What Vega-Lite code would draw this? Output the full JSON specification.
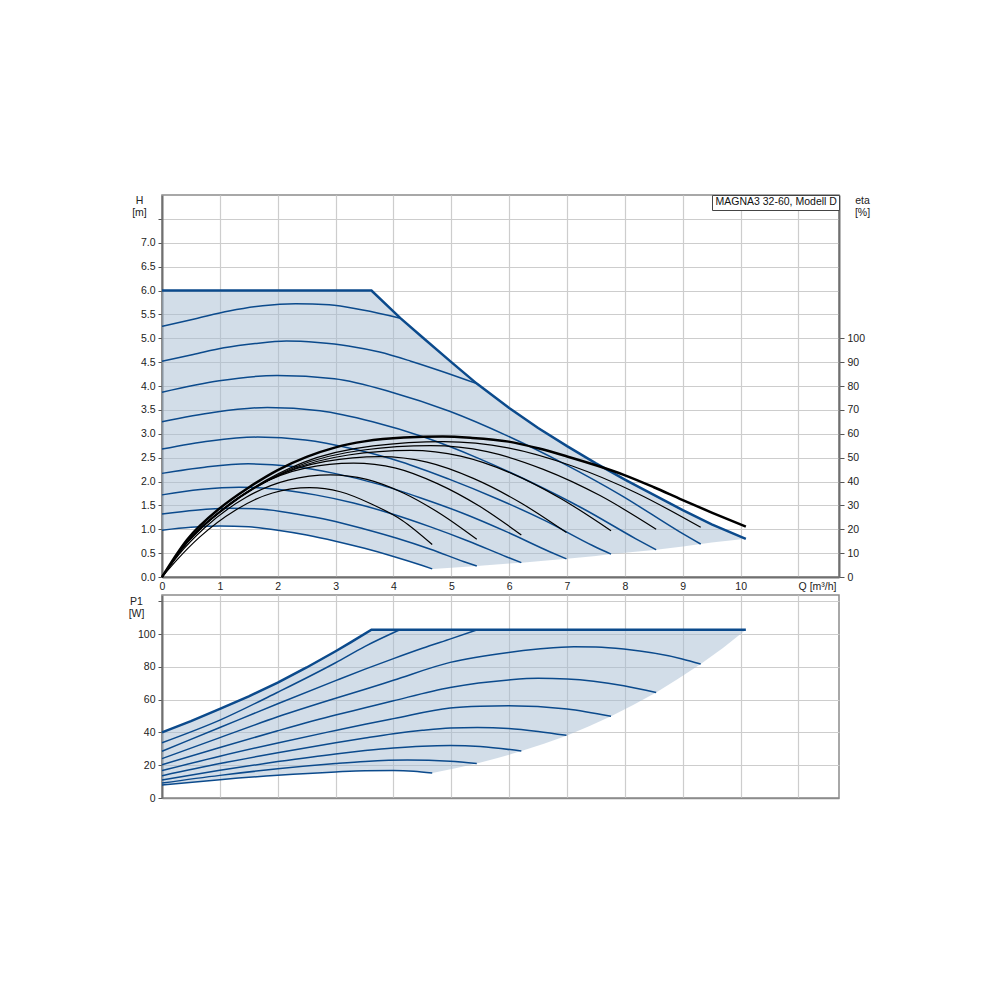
{
  "$schema": "https://vega.github.io/schema/vega-lite/v6.json",
  "autosize": {"type": "none"},
  "padding": {"left": 162, "top": 195, "right": 838, "bottom": 805},
  "background": "white",
  "bounds": "flush",
  "spacing": 18,
  "config": {
    "font": "Liberation Sans",
    "view": {"stroke": "#8c8c8c", "strokeWidth": 1.5},
    "axis": {"labelFont": "Liberation Sans", "labelFontSize": 10.5, "labelColor": "#222", "labelOverlap": false, "titleFont": "Liberation Sans", "titleFontSize": 10.5, "titleFontWeight": "normal", "titleColor": "#222", "gridColor": "#cdcdcd", "gridWidth": 1.2, "domainColor": "#707070", "domainWidth": 2, "tickColor": "#555"},
    "line": {"strokeCap": "butt"}
  },
  "datasets": {
    "harea": [
      {"Q": 0, "hi": 6.0, "lo": 0.98}, {"Q": 0.5, "hi": 6.0, "lo": 1.04}, {"Q": 1, "hi": 6.0, "lo": 1.07}, {"Q": 1.5, "hi": 6.0, "lo": 1.05},
      {"Q": 2, "hi": 6.0, "lo": 0.98}, {"Q": 2.5, "hi": 6.0, "lo": 0.88}, {"Q": 3, "hi": 6.0, "lo": 0.75}, {"Q": 3.5, "hi": 6.0, "lo": 0.60},
      {"Q": 3.62, "hi": 6.0, "lo": 0.56}, {"Q": 4.0, "hi": 5.56, "lo": 0.43}, {"Q": 4.12, "hi": 5.42, "lo": 0.39}, {"Q": 4.5, "hi": 5.02, "lo": 0.24},
      {"Q": 4.67, "hi": 4.85, "lo": 0.17}, {"Q": 5.0, "hi": 4.5, "lo": 0.195}, {"Q": 5.44, "hi": 4.05, "lo": 0.23}, {"Q": 6.0, "hi": 3.54, "lo": 0.285},
      {"Q": 6.21, "hi": 3.37, "lo": 0.30}, {"Q": 6.5, "hi": 3.12, "lo": 0.33}, {"Q": 6.99, "hi": 2.74, "lo": 0.38}, {"Q": 7.5, "hi": 2.38, "lo": 0.44},
      {"Q": 7.76, "hi": 2.21, "lo": 0.48}, {"Q": 8.0, "hi": 2.04, "lo": 0.51}, {"Q": 8.54, "hi": 1.70, "lo": 0.57}, {"Q": 9.0, "hi": 1.40, "lo": 0.64},
      {"Q": 9.31, "hi": 1.22, "lo": 0.69}, {"Q": 9.5, "hi": 1.10, "lo": 0.72}, {"Q": 10.09, "hi": 0.80, "lo": 0.80}
    ],
    "hmax": [
      {"Q": 0, "H": 6.0}, {"Q": 3.62, "H": 6.0}, {"Q": 4.12, "H": 5.42}, {"Q": 4.5, "H": 5.02}, {"Q": 5.0, "H": 4.5}, {"Q": 5.44, "H": 4.05},
      {"Q": 6.0, "H": 3.54}, {"Q": 6.5, "H": 3.12}, {"Q": 7.0, "H": 2.74}, {"Q": 7.5, "H": 2.38}, {"Q": 8.0, "H": 2.04}, {"Q": 8.5, "H": 1.72},
      {"Q": 9.0, "H": 1.40}, {"Q": 9.5, "H": 1.10}, {"Q": 10.09, "H": 0.80}
    ],
    "hspeed": [
      {"s": "k1", "Q": 0, "H": 5.25}, {"s": "k1", "Q": 0.58, "H": 5.41}, {"s": "k1", "Q": 1.16, "H": 5.57}, {"s": "k1", "Q": 1.74, "H": 5.68}, {"s": "k1", "Q": 2.31, "H": 5.72}, {"s": "k1", "Q": 2.89, "H": 5.70}, {"s": "k1", "Q": 3.47, "H": 5.59}, {"s": "k1", "Q": 4.12, "H": 5.42},
      {"s": "k2", "Q": 0, "H": 4.52}, {"s": "k2", "Q": 0.54, "H": 4.66}, {"s": "k2", "Q": 1.07, "H": 4.80}, {"s": "k2", "Q": 1.61, "H": 4.89}, {"s": "k2", "Q": 2.15, "H": 4.94}, {"s": "k2", "Q": 2.69, "H": 4.91}, {"s": "k2", "Q": 3.22, "H": 4.84}, {"s": "k2", "Q": 3.76, "H": 4.71}, {"s": "k2", "Q": 4.30, "H": 4.52}, {"s": "k2", "Q": 4.83, "H": 4.31}, {"s": "k2", "Q": 5.44, "H": 4.05},
      {"s": "k3", "Q": 0, "H": 3.87}, {"s": "k3", "Q": 0.99, "H": 4.11}, {"s": "k3", "Q": 1.99, "H": 4.22}, {"s": "k3", "Q": 2.98, "H": 4.15}, {"s": "k3", "Q": 3.97, "H": 3.87}, {"s": "k3", "Q": 4.97, "H": 3.47}, {"s": "k3", "Q": 5.96, "H": 2.96}, {"s": "k3", "Q": 6.95, "H": 2.37}, {"s": "k3", "Q": 7.95, "H": 1.70}, {"s": "k3", "Q": 8.94, "H": 0.95}, {"s": "k3", "Q": 9.31, "H": 0.69},
      {"s": "k4", "Q": 0, "H": 3.25}, {"s": "k4", "Q": 0.91, "H": 3.45}, {"s": "k4", "Q": 1.82, "H": 3.55}, {"s": "k4", "Q": 2.73, "H": 3.48}, {"s": "k4", "Q": 3.64, "H": 3.25}, {"s": "k4", "Q": 4.55, "H": 2.92}, {"s": "k4", "Q": 5.46, "H": 2.49}, {"s": "k4", "Q": 6.37, "H": 1.99}, {"s": "k4", "Q": 7.28, "H": 1.43}, {"s": "k4", "Q": 8.19, "H": 0.80}, {"s": "k4", "Q": 8.54, "H": 0.57},
      {"s": "k5", "Q": 0, "H": 2.68}, {"s": "k5", "Q": 0.83, "H": 2.85}, {"s": "k5", "Q": 1.65, "H": 2.93}, {"s": "k5", "Q": 2.48, "H": 2.87}, {"s": "k5", "Q": 3.31, "H": 2.68}, {"s": "k5", "Q": 4.14, "H": 2.41}, {"s": "k5", "Q": 4.96, "H": 2.05}, {"s": "k5", "Q": 5.79, "H": 1.64}, {"s": "k5", "Q": 6.62, "H": 1.18}, {"s": "k5", "Q": 7.44, "H": 0.66}, {"s": "k5", "Q": 7.76, "H": 0.48},
      {"s": "k6", "Q": 0, "H": 2.17}, {"s": "k6", "Q": 0.74, "H": 2.30}, {"s": "k6", "Q": 1.49, "H": 2.37}, {"s": "k6", "Q": 2.23, "H": 2.32}, {"s": "k6", "Q": 2.98, "H": 2.17}, {"s": "k6", "Q": 3.72, "H": 1.95}, {"s": "k6", "Q": 4.46, "H": 1.66}, {"s": "k6", "Q": 5.21, "H": 1.33}, {"s": "k6", "Q": 5.95, "H": 0.95}, {"s": "k6", "Q": 6.70, "H": 0.53}, {"s": "k6", "Q": 6.99, "H": 0.38},
      {"s": "k7", "Q": 0, "H": 1.72}, {"s": "k7", "Q": 0.66, "H": 1.83}, {"s": "k7", "Q": 1.33, "H": 1.88}, {"s": "k7", "Q": 1.99, "H": 1.84}, {"s": "k7", "Q": 2.65, "H": 1.72}, {"s": "k7", "Q": 3.31, "H": 1.55}, {"s": "k7", "Q": 3.98, "H": 1.32}, {"s": "k7", "Q": 4.64, "H": 1.05}, {"s": "k7", "Q": 5.30, "H": 0.75}, {"s": "k7", "Q": 5.96, "H": 0.42}, {"s": "k7", "Q": 6.21, "H": 0.30},
      {"s": "k8", "Q": 0, "H": 1.32}, {"s": "k8", "Q": 0.58, "H": 1.40}, {"s": "k8", "Q": 1.16, "H": 1.44}, {"s": "k8", "Q": 1.74, "H": 1.42}, {"s": "k8", "Q": 2.32, "H": 1.32}, {"s": "k8", "Q": 2.90, "H": 1.19}, {"s": "k8", "Q": 3.48, "H": 1.01}, {"s": "k8", "Q": 4.06, "H": 0.81}, {"s": "k8", "Q": 4.64, "H": 0.58}, {"s": "k8", "Q": 5.22, "H": 0.32}, {"s": "k8", "Q": 5.44, "H": 0.23},
      {"s": "k9", "Q": 0, "H": 0.98}, {"s": "k9", "Q": 0.5, "H": 1.04}, {"s": "k9", "Q": 1, "H": 1.07}, {"s": "k9", "Q": 1.5, "H": 1.05}, {"s": "k9", "Q": 2, "H": 0.98}, {"s": "k9", "Q": 2.5, "H": 0.88}, {"s": "k9", "Q": 3, "H": 0.75}, {"s": "k9", "Q": 3.5, "H": 0.60}, {"s": "k9", "Q": 4, "H": 0.43}, {"s": "k9", "Q": 4.5, "H": 0.24}, {"s": "k9", "Q": 4.67, "H": 0.17}
    ],
    "eta": [
      {"s": "e9", "Q": 0, "eta": 0}, {"s": "e9", "Q": 0.255, "eta": 7.1}, {"s": "e9", "Q": 0.64, "eta": 16.5}, {"s": "e9", "Q": 1.275, "eta": 28.1}, {"s": "e9", "Q": 1.91, "eta": 35.2}, {"s": "e9", "Q": 2.55, "eta": 37.4}, {"s": "e9", "Q": 3.08, "eta": 35.7}, {"s": "e9", "Q": 3.61, "eta": 30.7}, {"s": "e9", "Q": 4.14, "eta": 23.9}, {"s": "e9", "Q": 4.67, "eta": 13.6},
      {"s": "e8", "Q": 0, "eta": 0}, {"s": "e8", "Q": 0.291, "eta": 9.4}, {"s": "e8", "Q": 0.728, "eta": 20.4}, {"s": "e8", "Q": 1.455, "eta": 33.4}, {"s": "e8", "Q": 2.18, "eta": 40.6}, {"s": "e8", "Q": 2.91, "eta": 42.8}, {"s": "e8", "Q": 3.54, "eta": 40.9}, {"s": "e8", "Q": 4.18, "eta": 35.1}, {"s": "e8", "Q": 4.81, "eta": 26.5}, {"s": "e8", "Q": 5.44, "eta": 15.8},
      {"s": "e7", "Q": 0, "eta": 0}, {"s": "e7", "Q": 0.331, "eta": 11.4}, {"s": "e7", "Q": 0.83, "eta": 23.9}, {"s": "e7", "Q": 1.655, "eta": 38.2}, {"s": "e7", "Q": 2.48, "eta": 45.6}, {"s": "e7", "Q": 3.31, "eta": 47.7}, {"s": "e7", "Q": 4.04, "eta": 45.6}, {"s": "e7", "Q": 4.76, "eta": 39.1}, {"s": "e7", "Q": 5.49, "eta": 29.6}, {"s": "e7", "Q": 6.21, "eta": 17.6},
      {"s": "e6", "Q": 0, "eta": 0}, {"s": "e6", "Q": 0.377, "eta": 12.9}, {"s": "e6", "Q": 0.94, "eta": 26.1}, {"s": "e6", "Q": 1.885, "eta": 41.1}, {"s": "e6", "Q": 2.83, "eta": 48.4}, {"s": "e6", "Q": 3.77, "eta": 50.4}, {"s": "e6", "Q": 4.58, "eta": 48.1}, {"s": "e6", "Q": 5.38, "eta": 41.3}, {"s": "e6", "Q": 6.19, "eta": 31.2}, {"s": "e6", "Q": 6.99, "eta": 18.6},
      {"s": "e5", "Q": 0, "eta": 0}, {"s": "e5", "Q": 0.429, "eta": 14.3}, {"s": "e5", "Q": 1.07, "eta": 28.4}, {"s": "e5", "Q": 2.145, "eta": 44.0}, {"s": "e5", "Q": 3.22, "eta": 51.1}, {"s": "e5", "Q": 4.29, "eta": 53.0}, {"s": "e5", "Q": 5.16, "eta": 50.6}, {"s": "e5", "Q": 6.03, "eta": 43.5}, {"s": "e5", "Q": 6.89, "eta": 32.9}, {"s": "e5", "Q": 7.76, "eta": 19.4},
      {"s": "e4", "Q": 0, "eta": 0}, {"s": "e4", "Q": 0.464, "eta": 15.4}, {"s": "e4", "Q": 1.16, "eta": 30.1}, {"s": "e4", "Q": 2.32, "eta": 46.2}, {"s": "e4", "Q": 3.48, "eta": 53.2}, {"s": "e4", "Q": 4.64, "eta": 55.0}, {"s": "e4", "Q": 5.62, "eta": 52.5}, {"s": "e4", "Q": 6.59, "eta": 45.1}, {"s": "e4", "Q": 7.57, "eta": 34.1}, {"s": "e4", "Q": 8.54, "eta": 20.0},
      {"s": "e3", "Q": 0, "eta": 0}, {"s": "e3", "Q": 0.487, "eta": 16.2}, {"s": "e3", "Q": 1.22, "eta": 31.4}, {"s": "e3", "Q": 2.435, "eta": 47.9}, {"s": "e3", "Q": 3.65, "eta": 54.9}, {"s": "e3", "Q": 4.87, "eta": 56.7}, {"s": "e3", "Q": 5.98, "eta": 54.1}, {"s": "e3", "Q": 7.09, "eta": 46.5}, {"s": "e3", "Q": 8.20, "eta": 35.2}, {"s": "e3", "Q": 9.31, "eta": 20.8}
    ],
    "etamax": [
      {"Q": 0, "eta": 0}, {"Q": 0.43, "eta": 15.5}, {"Q": 1.0, "eta": 28.8}, {"Q": 1.5, "eta": 37.5}, {"Q": 2.0, "eta": 44.8}, {"Q": 2.5, "eta": 50.3}, {"Q": 3.0, "eta": 54.3}, {"Q": 3.5, "eta": 56.8}, {"Q": 4.18, "eta": 58.4}, {"Q": 4.85, "eta": 58.8},
      {"Q": 5.33, "eta": 58.3}, {"Q": 5.99, "eta": 56.7}, {"Q": 6.5, "eta": 53.9}, {"Q": 7.0, "eta": 50.5}, {"Q": 7.5, "eta": 46.8}, {"Q": 7.98, "eta": 42.8}, {"Q": 8.5, "eta": 37.6}, {"Q": 8.99, "eta": 32.3}, {"Q": 9.5, "eta": 27.0}, {"Q": 10.09, "eta": 21.1}
    ],
    "parea": [
      {"Q": 0, "hi": 40.0, "lo": 7.9}, {"Q": 0.5, "hi": 46.9, "lo": 9.6}, {"Q": 1, "hi": 54.3, "lo": 11.2}, {"Q": 1.5, "hi": 62.0, "lo": 12.6}, {"Q": 2, "hi": 70.3, "lo": 13.9},
      {"Q": 2.5, "hi": 79.6, "lo": 15.0}, {"Q": 3, "hi": 89.5, "lo": 15.9}, {"Q": 3.26, "hi": 94.9, "lo": 16.3}, {"Q": 3.62, "hi": 102.6, "lo": 16.65}, {"Q": 4, "hi": 102.6, "lo": 16.7},
      {"Q": 4.35, "hi": 102.6, "lo": 16.3}, {"Q": 4.67, "hi": 102.6, "lo": 15.2}, {"Q": 5.05, "hi": 102.6, "lo": 18.0}, {"Q": 5.44, "hi": 102.6, "lo": 21.1}, {"Q": 5.8, "hi": 102.6, "lo": 24.4},
      {"Q": 6.21, "hi": 102.6, "lo": 28.6}, {"Q": 6.6, "hi": 102.6, "lo": 33.1}, {"Q": 6.99, "hi": 102.6, "lo": 38.0}, {"Q": 7.38, "hi": 102.6, "lo": 43.7}, {"Q": 7.76, "hi": 102.6, "lo": 49.8},
      {"Q": 8.15, "hi": 102.6, "lo": 56.8}, {"Q": 8.54, "hi": 102.6, "lo": 64.4}, {"Q": 8.92, "hi": 102.6, "lo": 72.7}, {"Q": 9.31, "hi": 102.6, "lo": 81.7}, {"Q": 9.7, "hi": 102.6, "lo": 91.7}, {"Q": 10.09, "hi": 102.6, "lo": 102.6}
    ],
    "pmax": [
      {"Q": 0, "P": 40.0}, {"Q": 0.5, "P": 46.9}, {"Q": 1, "P": 54.3}, {"Q": 1.5, "P": 62.0}, {"Q": 2, "P": 70.3}, {"Q": 2.5, "P": 79.6}, {"Q": 3, "P": 89.5}, {"Q": 3.26, "P": 94.9}, {"Q": 3.62, "P": 102.6}, {"Q": 10.09, "P": 102.6}
    ],
    "pspeed": [
      {"s": "c1", "Q": 0, "P": 33.7}, {"s": "c1", "Q": 1, "P": 47.5}, {"s": "c1", "Q": 2, "P": 64.5}, {"s": "c1", "Q": 3, "P": 82.5}, {"s": "c1", "Q": 3.51, "P": 92.5}, {"s": "c1", "Q": 4.11, "P": 102.6},
      {"s": "c2", "Q": 0, "P": 28.5}, {"s": "c2", "Q": 1, "P": 43.0}, {"s": "c2", "Q": 2, "P": 57.5}, {"s": "c2", "Q": 3, "P": 71.6}, {"s": "c2", "Q": 3.51, "P": 78.6}, {"s": "c2", "Q": 4, "P": 85.0}, {"s": "c2", "Q": 4.5, "P": 91.3}, {"s": "c2", "Q": 5, "P": 97.2}, {"s": "c2", "Q": 5.45, "P": 102.6},
      {"s": "c3", "Q": 0, "P": 24.0}, {"s": "c3", "Q": 1, "P": 36.8}, {"s": "c3", "Q": 2, "P": 49.5}, {"s": "c3", "Q": 3, "P": 60.8}, {"s": "c3", "Q": 3.51, "P": 66.3}, {"s": "c3", "Q": 4, "P": 71.8}, {"s": "c3", "Q": 4.98, "P": 82.7}, {"s": "c3", "Q": 5.99, "P": 88.8}, {"s": "c3", "Q": 6.5, "P": 90.8}, {"s": "c3", "Q": 7.12, "P": 92.3}, {"s": "c3", "Q": 7.5, "P": 92.1}, {"s": "c3", "Q": 7.98, "P": 90.8}, {"s": "c3", "Q": 8.99, "P": 84.8}, {"s": "c3", "Q": 9.31, "P": 81.7},
      {"s": "c4", "Q": 0, "P": 20.3}, {"s": "c4", "Q": 1, "P": 30.8}, {"s": "c4", "Q": 2, "P": 41.0}, {"s": "c4", "Q": 3, "P": 50.6}, {"s": "c4", "Q": 3.51, "P": 55.0}, {"s": "c4", "Q": 4, "P": 59.3}, {"s": "c4", "Q": 4.98, "P": 67.4}, {"s": "c4", "Q": 5.99, "P": 72.0}, {"s": "c4", "Q": 6.5, "P": 73.0}, {"s": "c4", "Q": 7.0, "P": 72.6}, {"s": "c4", "Q": 7.98, "P": 68.5}, {"s": "c4", "Q": 8.54, "P": 64.4},
      {"s": "c5", "Q": 0, "P": 16.7}, {"s": "c5", "Q": 1, "P": 25.5}, {"s": "c5", "Q": 2, "P": 33.6}, {"s": "c5", "Q": 3, "P": 41.2}, {"s": "c5", "Q": 3.51, "P": 45.0}, {"s": "c5", "Q": 4, "P": 48.4}, {"s": "c5", "Q": 4.98, "P": 54.9}, {"s": "c5", "Q": 5.5, "P": 56.0}, {"s": "c5", "Q": 5.99, "P": 56.3}, {"s": "c5", "Q": 7.0, "P": 54.3}, {"s": "c5", "Q": 7.76, "P": 49.8},
      {"s": "c6", "Q": 0, "P": 13.6}, {"s": "c6", "Q": 1, "P": 21.0}, {"s": "c6", "Q": 2, "P": 27.6}, {"s": "c6", "Q": 3, "P": 33.7}, {"s": "c6", "Q": 3.51, "P": 36.6}, {"s": "c6", "Q": 4, "P": 39.2}, {"s": "c6", "Q": 4.5, "P": 41.3}, {"s": "c6", "Q": 4.98, "P": 42.7}, {"s": "c6", "Q": 5.45, "P": 43.0}, {"s": "c6", "Q": 5.99, "P": 42.4}, {"s": "c6", "Q": 6.5, "P": 40.6}, {"s": "c6", "Q": 6.99, "P": 38.2},
      {"s": "c7", "Q": 0, "P": 11.0}, {"s": "c7", "Q": 1, "P": 16.9}, {"s": "c7", "Q": 2, "P": 22.2}, {"s": "c7", "Q": 3, "P": 26.9}, {"s": "c7", "Q": 3.51, "P": 28.9}, {"s": "c7", "Q": 4, "P": 30.5}, {"s": "c7", "Q": 4.5, "P": 31.6}, {"s": "c7", "Q": 4.98, "P": 32.0}, {"s": "c7", "Q": 5.5, "P": 31.4}, {"s": "c7", "Q": 6.21, "P": 28.6},
      {"s": "c8", "Q": 0, "P": 9.1}, {"s": "c8", "Q": 1, "P": 13.8}, {"s": "c8", "Q": 2, "P": 17.8}, {"s": "c8", "Q": 3, "P": 21.0}, {"s": "c8", "Q": 3.51, "P": 22.3}, {"s": "c8", "Q": 4.24, "P": 23.2}, {"s": "c8", "Q": 4.98, "P": 22.4}, {"s": "c8", "Q": 5.44, "P": 21.1},
      {"s": "c9", "Q": 0, "P": 7.9}, {"s": "c9", "Q": 1, "P": 11.2}, {"s": "c9", "Q": 2, "P": 13.9}, {"s": "c9", "Q": 3, "P": 15.9}, {"s": "c9", "Q": 3.51, "P": 16.6}, {"s": "c9", "Q": 4, "P": 16.7}, {"s": "c9", "Q": 4.35, "P": 16.3}, {"s": "c9", "Q": 4.67, "P": 15.2}
    ]
  },
  "vconcat": [
    {
      "width": 677,
      "height": 382,
      "encoding": {
        "x": {"field": "Q", "type": "quantitative", "scale": {"domain": [0, 11.7], "nice": false, "zero": false},
          "axis": {"values": [0, 1, 2, 3, 4, 5, 6, 7, 8, 9, 10, 11], "tickCount": 30, "format": "d", "labelExpr": "datum.value > 10 ? '' : datum.label", "labelOverlap": false, "ticks": false, "labelPadding": 4, "labelFlush": false,
            "title": "Q [m³/h]", "titleX": 674, "titleY": 4, "titleAlign": "right", "titleBaseline": "top", "titleAnchor": null}}
      },
      "layer": [
        {
          "layer": [
            {
              "data": {"name": "harea"},
              "mark": {"type": "area", "opacity": 0.5},
              "encoding": {
                "y": {"field": "hi", "type": "quantitative", "scale": {"domain": [0, 8], "nice": false, "zero": false},
                  "axis": {"values": [0, 0.5, 1, 1.5, 2, 2.5, 3, 3.5, 4, 4.5, 5, 5.5, 6, 6.5, 7, 7.5], "tickCount": 30, "format": ".1f", "labelExpr": "datum.value > 7.2 ? '' : datum.label", "labelOverlap": false, "labelBound": false, "tickSize": 4, "labelPadding": 3,
                    "title": ["H", "[m]"], "titleAngle": 0, "titleX": -23, "titleY": 0, "titleAlign": "center", "titleBaseline": "top", "titleLineHeight": 12}},
                "y2": {"field": "lo"},
                "color": {"datum": "MAGNA3 32-60, Modell D", "type": "nominal", "scale": {"range": ["#a5bbd1"]},
                  "legend": {"orient": "top-right", "offset": 0, "title": null, "symbolType": "circle", "symbolSize": 0.01, "symbolOpacity": 0, "symbolStrokeWidth": 0, "labelOffset": -9, "padding": 2, "strokeColor": "#444", "fillColor": "white", "cornerRadius": 0, "labelFontSize": 10.5, "labelFont": "Liberation Sans", "labelColor": "#111"}}
              }
            },
            {
              "data": {"name": "hspeed"},
              "mark": {"type": "line", "color": "#0b4a8c", "strokeWidth": 1.5, "interpolate": "monotone"},
              "encoding": {"y": {"field": "H", "type": "quantitative"}, "detail": {"field": "s"}}
            },
            {
              "data": {"name": "hmax"},
              "mark": {"type": "line", "color": "#0b4a8c", "strokeWidth": 2.5},
              "encoding": {"y": {"field": "H", "type": "quantitative"}}
            }
          ]
        },
        {
          "layer": [
            {
              "data": {"name": "eta"},
              "mark": {"type": "line", "color": "#000000", "strokeWidth": 1.2, "interpolate": "monotone"},
              "encoding": {
                "y": {"field": "eta", "type": "quantitative", "scale": {"domain": [0, 160], "nice": false, "zero": false},
                  "axis": {"orient": "right", "values": [0, 10, 20, 30, 40, 50, 60, 70, 80, 90, 100], "tickCount": 30, "format": "d", "labelOverlap": false, "labelBound": false, "grid": false, "tickSize": 5, "labelPadding": 3,
                    "title": ["eta", "[%]"], "titleAngle": 0, "titleX": 23, "titleY": 0, "titleAlign": "center", "titleBaseline": "top", "titleLineHeight": 12}},
                "detail": {"field": "s"}
              }
            },
            {
              "data": {"name": "etamax"},
              "mark": {"type": "line", "color": "#000000", "strokeWidth": 2.5, "interpolate": "monotone"},
              "encoding": {"y": {"field": "eta", "type": "quantitative"}}
            }
          ]
        }
      ],
      "resolve": {"scale": {"y": "independent"}, "axis": {"y": "independent"}}
    },
    {
      "width": 677,
      "height": 203,
      "encoding": {
        "x": {"field": "Q", "type": "quantitative", "scale": {"domain": [0, 11.7], "nice": false, "zero": false},
          "axis": {"values": [0, 1, 2, 3, 4, 5, 6, 7, 8, 9, 10, 11], "tickCount": 30, "labels": false, "ticks": false, "title": null, "domainColor": "#8c8c8c", "domainWidth": 1.5}}
      },
      "layer": [
        {
          "data": {"name": "parea"},
          "mark": {"type": "area", "opacity": 0.5, "color": "#a5bbd1"},
          "encoding": {
            "y": {"field": "hi", "type": "quantitative", "scale": {"domain": [0, 123.8], "nice": false, "zero": false},
              "axis": {"values": [0, 20, 40, 60, 80, 100, 120], "tickCount": 30, "format": "d", "labelExpr": "datum.value > 110 ? '' : datum.label", "labelOverlap": false, "labelBound": false, "tickSize": 4, "labelPadding": 3,
                "title": ["P1", "[W]"], "titleAngle": 0, "titleX": -26, "titleY": 1, "titleAlign": "center", "titleBaseline": "top", "titleLineHeight": 12}},
            "y2": {"field": "lo"}
          }
        },
        {
          "data": {"name": "pspeed"},
          "mark": {"type": "line", "color": "#0b4a8c", "strokeWidth": 1.5, "interpolate": "monotone"},
          "encoding": {"y": {"field": "P", "type": "quantitative"}, "detail": {"field": "s"}}
        },
        {
          "data": {"name": "pmax"},
          "mark": {"type": "line", "color": "#0b4a8c", "strokeWidth": 2.5},
          "encoding": {"y": {"field": "P", "type": "quantitative"}}
        }
      ]
    }
  ]
}
